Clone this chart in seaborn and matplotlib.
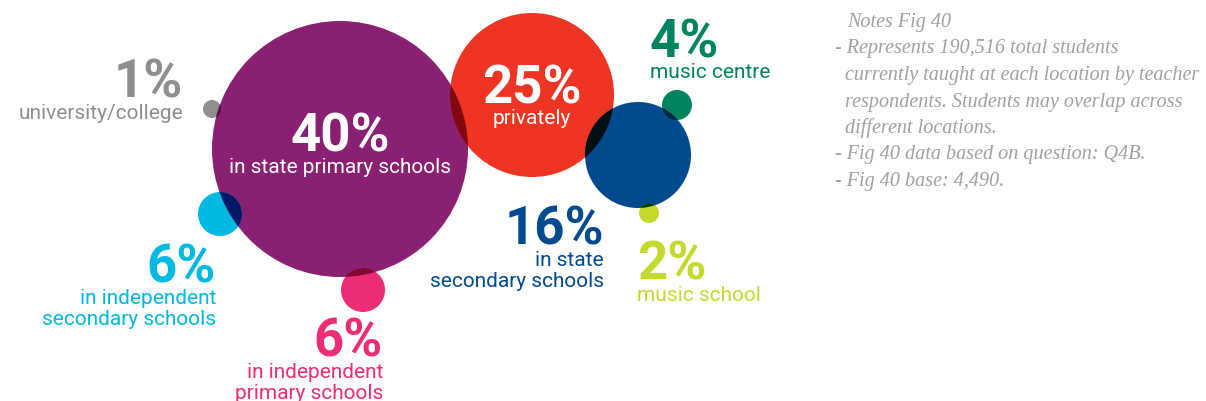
import numpy as np
import pandas as pd
import matplotlib
matplotlib.use("Agg")
import matplotlib.pyplot as plt
import seaborn as sns
from matplotlib.patches import Circle

# data
labels = ["university/college", "in state primary schools", "privately",
          "music centre", "in state\nsecondary schools", "music school",
          "in independent\nsecondary schools", "in independent\nprimary schools"]
values = [1, 40, 25, 4, 16, 2, 6, 6]
colors = ["#8e8e90", "#8a2072", "#ee3524", "#00845f", "#004a8d", "#c5d92d",
          "#00b9e2", "#ec2c74"]

# bubble layout (pixel units)
bubble_x = [212, 340, 532, 677, 638, 649, 220, 363]
bubble_y = [110, 150, 96, 106, 156, 214, 215, 291]
bubble_r = [9, 128, 82, 15, 53, 10, 22, 22]

notes = ["Notes Fig 40",
         "- Represents 190,516 total students",
         "currently taught at each location by teacher",
         "respondents. Students may overlap across",
         "different locations.",
         "- Fig 40 data based on question: Q4B.",
         "- Fig 40 base: 4,490."]

sns.set_theme(style="white")

W, H = 1206, 402
fig = plt.figure(figsize=(W / 100, H / 100), dpi=100)
ax = fig.add_axes([0, 0, 1, 1])

df = pd.DataFrame({"x": bubble_x, "y": bubble_y, "label": labels})
sizes = {lab: (2 * r * 0.72) ** 2 for lab, r in zip(labels, bubble_r)}
palette = dict(zip(labels, colors))
sns.scatterplot(data=df, x="x", y="y", hue="label", size="label",
                palette=palette, sizes=sizes, linewidth=0, legend=False,
                alpha=1, ax=ax, zorder=2)

# darker multiply-style tint where bubbles overlap
def rgb(c):
    return np.array(matplotlib.colors.to_rgb(c))

for i in range(len(labels)):
    for j in range(i + 1, len(labels)):
        d = np.hypot(bubble_x[i] - bubble_x[j], bubble_y[i] - bubble_y[j])
        if d < bubble_r[i] + bubble_r[j]:
            mixed = rgb(colors[i]) * rgb(colors[j])
            clip = Circle((bubble_x[i], bubble_y[i]), bubble_r[i], transform=ax.transData)
            c = Circle((bubble_x[j], bubble_y[j]), bubble_r[j], facecolor=mixed,
                       edgecolor="none", zorder=3)
            ax.add_patch(c)
            c.set_clip_path(clip)

ax.set_xlim(0, W)
ax.set_ylim(H, 0)
ax.set_aspect("equal")
ax.axis("off")

# labels: (x, baseline of number, alignment, number colour)
label_pos = [(183, 98, "right", colors[0]),
             (340, 152, "center", "white"),
             (532, 103, "center", "white"),
             (650, 57, "left", colors[3]),
             (604, 245, "right", colors[4]),
             (637, 280, "left", colors[5]),
             (216, 283, "right", colors[6]),
             (383, 357, "right", colors[7])]

for (x, yb, ha, col), v, lab in zip(label_pos, values, labels):
    ax.text(x, yb, f"{v}%", ha=ha, va="baseline", color=col,
            fontsize=38, fontweight="bold", family="Roboto", zorder=5)
    for k, line in enumerate(lab.split("\n")):
        ax.text(x, yb + 21 + k * 21, line, ha=ha, va="baseline", color=col,
                fontsize=15, family="Roboto", zorder=5)

for k, line in enumerate(notes):
    x = 835 if line.startswith("-") else 845
    if k == 0:
        x = 847
    ax.text(x, 27 + k * 26.5, line, ha="left",
            va="baseline", color="#a0a0a0", fontsize=14.5, style="italic",
            family="Liberation Serif", zorder=5)

fig.savefig("out.png", dpi=100)
